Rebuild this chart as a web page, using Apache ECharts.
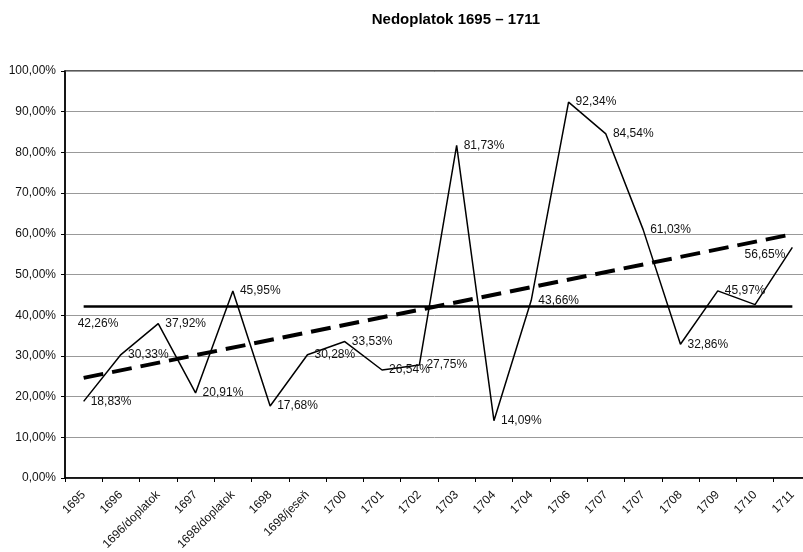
<!DOCTYPE html>
<html>
<head>
<meta charset="utf-8">
<title>Nedoplatok 1695 – 1711</title>
<script src="https://cdn.jsdelivr.net/npm/echarts@6/dist/echarts.min.js"></script>
<style>
  html, body { margin: 0; padding: 0; background: #fff; }
  #chart { width: 803px; height: 552px; }
</style>
</head>
<body>
<div id="chart"></div>
<script>
// kategórie (roky / platby)
const years = ['1695', '1696', '1696/doplatok', '1697', '1698/doplatok', '1698', '1698/jeseň',
  '1700', '1701', '1702', '1703', '1704', '1704', '1706', '1707', '1707', '1708', '1709', '1710', '1711']
// nedoplatok v %
const shortfall = [18.83, 30.33, 37.92, 20.91, 45.95, 17.68, 30.28, 33.53, 26.54, 27.75,
  81.73, 14.09, 43.66, 92.34, 84.54, 61.03, 32.86, 45.97, 42.6, 56.65]
// priemer a lineárny trend (odčítané z grafu)
const average = 42.26
const trendEnds = [24.6, 59.9]
const yTicks = [0, 10, 20, 30, 40, 50, 60, 70, 80, 90, 100]

const pct = v => v.toFixed(2).replace('.', ',') + '%'
const font = 'Liberation Sans, Arial, sans-serif'

let chartDom = document.getElementById('chart')
let myChart = echarts.init(chartDom)

const last = years.length - 1
const lineData = shortfall.map((v, i) => {
  if (i === 18) return { value: v, label: { show: false } }
  if (i === last) return { value: v, label: { position: 'left', offset: [0, 7] } }
  return v
})

let option = {
  backgroundColor: '#fff',
  animation: false,
  title: {
    text: 'Nedoplatok 1695 – 1711',
    left: 451,
    top: 7,
    textAlign: 'center',
    textStyle: { fontFamily: font, fontSize: 15, fontWeight: 'bold', color: '#000' }
  },
  grid: {
    left: 65,
    top: 71,
    width: 746,
    height: 407,
    show: true,
    borderColor: '#222',
    borderWidth: 1.5,
    outerBoundsMode: 'none'
  },
  xAxis: {
    type: 'category',
    data: years,
    boundaryGap: true,
    axisLine: { lineStyle: { color: '#000', width: 1.5 } },
    axisTick: { show: true, alignWithLabel: false, length: 4, lineStyle: { color: '#000' } },
    axisLabel: {
      interval: 0,
      rotate: 45,
      margin: 15,
      fontFamily: font,
      fontSize: 12,
      color: '#111'
    },
    splitLine: { show: false }
  },
  yAxis: {
    type: 'value',
    min: yTicks[0],
    max: yTicks[yTicks.length - 1],
    interval: yTicks[1] - yTicks[0],
    axisLine: { show: true, lineStyle: { color: '#000', width: 1.5 } },
    axisTick: { show: true, length: 4, lineStyle: { color: '#000' } },
    axisLabel: {
      formatter: v => pct(v),
      margin: 9,
      fontFamily: font,
      fontSize: 12,
      color: '#111'
    },
    splitLine: { show: true, lineStyle: { color: '#999', width: 1 } }
  },
  series: [
    {
      name: 'Nedoplatok',
      type: 'line',
      data: lineData,
      symbol: 'circle',
      symbolSize: 0.1,
      itemStyle: { color: '#000' },
      lineStyle: { color: '#000', width: 1.5 },
      label: {
        show: true,
        position: 'right',
        distance: 7,
        formatter: p => pct(p.value),
        fontFamily: font,
        fontSize: 12,
        color: '#111'
      },
      z: 3,
      markLine: {
        silent: true,
        symbol: ['none', 'none'],
        animation: false,
        data: [
          [
            { coord: [0, average], lineStyle: { color: '#000', width: 2.5, type: 'solid' },
              label: { show: true, position: 'insideStartBottom', distance: [-6, 12],
                formatter: pct(average), fontFamily: font, fontSize: 12, color: '#111' } },
            { coord: [last, average] }
          ],
          [
            { coord: [0, trendEnds[0]], lineStyle: { color: '#000', width: 4, type: [20, 9], cap: 'butt' },
              label: { show: false } },
            { coord: [last, trendEnds[1]] }
          ]
        ]
      }
    }
  ]
}

option && myChart.setOption(option)
</script>
</body>
</html>
